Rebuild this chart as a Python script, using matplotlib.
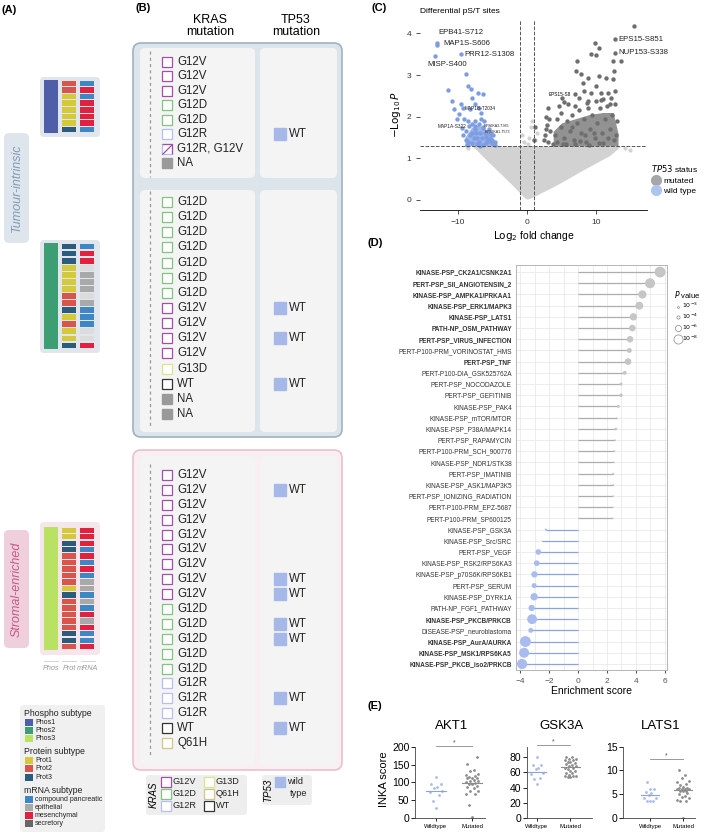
import numpy as np
import matplotlib
matplotlib.use('Agg')
import matplotlib.pyplot as plt
from matplotlib.patches import FancyBboxPatch, Rectangle
from matplotlib.lines import Line2D

plt.rcParams['font.family'] = ['Liberation Sans', 'DejaVu Sans']

# ---------------- data ----------------
# (A) subtypes per sample, three groups
phos_A = ['Phos1', 'Phos2', 'Phos3']
prot_A = [
    ['Prot2', 'Prot2', 'Prot1', 'Prot1', 'Prot1', 'Prot1', 'Prot1', 'Prot3'],
    ['Prot3', 'Prot3', 'Prot3', 'Prot1', 'Prot1', 'Prot1', 'Prot1', 'Prot2',
     'Prot2', 'Prot3', 'Prot1', 'Prot2', 'Prot1', 'Prot1', 'Prot3'],
    ['Prot1', 'Prot1', 'Prot3', 'Prot3', 'Prot2', 'Prot2', 'Prot2', 'Prot2',
     'Prot2', 'Prot1', 'Prot3', 'Prot2', 'Prot2', 'Prot2', 'Prot2', 'Prot2',
     'Prot3', 'Prot3', 'Prot2'],
]
mrna_A = [
    ['compound pancreatic', 'mesenchymal', 'compound pancreatic', 'mesenchymal',
     'mesenchymal', 'mesenchymal', 'mesenchymal', 'compound pancreatic'],
    ['compound pancreatic', 'mesenchymal', 'mesenchymal', 'NA', 'epithelial',
     'epithelial', 'epithelial', 'NA', 'epithelial', 'compound pancreatic',
     'compound pancreatic', 'compound pancreatic', 'NA', 'NA', 'mesenchymal'],
    ['mesenchymal', 'mesenchymal', 'mesenchymal', 'compound pancreatic',
     'mesenchymal', 'compound pancreatic', 'mesenchymal', 'compound pancreatic',
     'epithelial', 'epithelial', 'compound pancreatic', 'epithelial',
     'compound pancreatic', 'mesenchymal', 'epithelial', 'mesenchymal',
     'compound pancreatic', 'compound pancreatic', 'mesenchymal'],
]

# (B) KRAS / TP53 per sample
kras_B = [
    ['G12V', 'G12V', 'G12V', 'G12D', 'G12D', 'G12R', 'G12R, G12V', 'NA'],
    ['G12D', 'G12D', 'G12D', 'G12D', 'G12D', 'G12D', 'G12D', 'G12V', 'G12V',
     'G12V', 'G12V', 'G13D', 'WT', 'NA', 'NA'],
    ['G12V', 'G12V', 'G12V', 'G12V', 'G12V', 'G12V', 'G12V', 'G12V', 'G12V',
     'G12D', 'G12D', 'G12D', 'G12D', 'G12D', 'G12R', 'G12R', 'G12R', 'WT', 'Q61H'],
]
tp53_B = [
    ['', '', '', '', '', 'WT', '', ''],
    ['', '', '', '', '', '', '', 'WT', '', 'WT', '', '', 'WT', '', ''],
    ['', 'WT', '', '', '', '', '', 'WT', 'WT', '', 'WT', 'WT', '', '', '',
     'WT', '', 'WT', ''],
]

# (C) volcano: non-significant cloud envelope, dense cores and single sites
ns_fc = [-8.0, -7.0, -6.0, -4.5, -3.0, -2.0, -1.2, -0.6, 0.0, 0.6, 1.2, 2.0,
         3.0, 4.5, 6.0, 8.0, 10.0, 12.0, 13.5]
ns_lo = [1.30, 1.15, 0.98, 0.74, 0.50, 0.34, 0.20, 0.09, 0.02, 0.05, 0.10, 0.17,
         0.25, 0.38, 0.52, 0.71, 0.89, 1.07, 1.28]
ns_hi = [1.30] * len(ns_fc)
ns_x = [0.3, 0.6, -0.4, 0.8, 1.5, 1.2, -0.7, 0.1, 14.2, 15.0, -8.6]
ns_y = [1.50, 1.75, 1.40, 1.90, 1.60, 1.45, 1.55, 1.35, 1.25, 1.20, 1.25]

mut_core_fc = [3.8, 5.0, 7.0, 9.0, 11.0, 12.5, 13.2]
mut_core_hi = [1.65, 1.85, 1.95, 2.05, 2.10, 2.10, 1.60]
wt_core_fc = [-9.0, -8.0, -7.0, -6.0, -5.0, -4.5]
wt_core_hi = [1.50, 1.75, 1.80, 1.70, 1.50, 1.35]

wt_fc = [-13.0, -13.1, -9.6, -13.3, -8.8, -11.5, -8.6, -8.1, -7.1, -6.4, -10.8,
         -9.6, -10.5, -8.3, -7.6, -6.7, -9.8, -9.1, -8.6, -7.9, -6.2, -9.4, -8.0,
         -7.0, -10.2, -8.8, -8.2, -7.6, -7.2, -6.8, -6.3, -5.9, -5.5, -5.1, -4.7,
         -8.5, -7.9, -7.4, -6.9, -6.5, -6.0, -5.7, -5.3, -8.9, -7.0, -6.6, -8.4,
         -7.7, -6.1, -5.0, -9.3, -7.3, -8.0, -6.4, -5.5, -9.2, -7.6, -6.4, -4.9,
         -5.8, -6.8, -7.5, -8.7, -4.6, -5.2]
wt_p = [3.78, 3.73, 3.50, 3.45, 3.02, 2.64, 2.74, 2.66, 2.58, 2.54, 2.38, 2.30,
        2.18, 2.18, 2.30, 2.10, 2.06, 1.94, 1.90, 1.82, 1.90, 1.74, 2.45, 2.20,
        1.95, 1.65, 1.55, 1.70, 1.48, 1.62, 1.75, 1.52, 1.42, 1.36, 1.33, 1.40,
        1.38, 1.60, 1.40, 1.50, 1.38, 1.62, 1.50, 1.45, 1.82, 1.95, 1.78, 1.50,
        1.60, 1.45, 1.55, 1.35, 1.62, 1.33, 1.70, 2.20, 1.78, 1.74, 1.55, 1.45,
        1.30, 1.90, 1.32, 1.40, 1.58]

mut_fc = [15.5, 12.8, 12.7, 13.6, 9.8, 10.5, 9.3, 10.0, 7.3, 7.1, 12.4, 12.6,
          7.8, 8.8, 10.5, 11.4, 12.4, 8.1, 10.0, 8.3, 9.3, 10.7, 11.7, 12.7, 6.9,
          7.6, 8.8, 10.0, 11.0, 12.2, 12.7, 1.0, 1.2, 2.6, 2.9, 3.1, 3.4, 4.3,
          4.6, 4.9, 5.0, 5.4, 5.8, 6.2, 6.5, 6.8, 7.2, 7.5, 7.9, 8.2, 8.6, 8.9,
          9.2, 9.5, 9.9, 10.2, 10.6, 10.9, 11.3, 11.6, 12.0, 12.3, 12.6, 13.0,
          5.2, 7.0, 9.0, 11.0, 6.0, 3.8, 4.0, 2.7, 3.0, 5.6, 6.6, 8.4, 9.7, 11.8,
          12.9, 4.4, 10.4, 7.7, 2.8, 3.2, 2.5, 5.3, 5.1, 6.9, 8.7, 10.8, 12.1]
mut_p = [4.18, 3.86, 3.53, 3.34, 3.78, 3.66, 3.50, 3.48, 3.34, 3.10, 3.34, 3.10,
         3.02, 2.94, 2.98, 2.94, 2.90, 2.82, 2.74, 2.62, 2.58, 2.58, 2.58, 2.62,
         2.54, 2.46, 2.38, 2.38, 2.42, 2.46, 2.30, 1.45, 1.75, 1.55, 1.80, 1.40,
         1.65, 1.95, 2.25, 2.10, 1.75, 1.50, 1.90, 1.65, 2.05, 1.45, 1.85, 2.15,
         1.60, 1.95, 1.40, 2.20, 1.70, 2.05, 1.50, 1.85, 2.20, 1.60, 1.95, 2.25,
         1.70, 2.05, 1.45, 1.90, 1.35, 1.35, 1.33, 1.38, 2.30, 1.35, 1.55, 2.00,
         2.20, 1.35, 1.75, 1.55, 1.60, 1.50, 1.55, 1.40, 1.38, 1.42, 1.70, 1.95,
         1.45, 2.35, 2.45, 2.25, 2.32, 2.40, 2.30]

volcano_labels = [('EPB41-S712', -12.9, 4.02, 5.6), ('MAP1S-S606', -12.1, 3.76, 5.6),
                  ('PRR12-S1308', -9.0, 3.49, 5.6), ('MISP-S400', -14.4, 3.24, 5.6),
                  ('EPS15-S851', 13.2, 3.86, 5.6), ('NUP153-S338', 13.2, 3.53, 5.6),
                  ('MAP1B-T2034', -9.1, 2.20, 3.4), ('MAP1A-S322', -12.9, 1.76, 3.4),
                  ('RPS6KA3-T365', -6.2, 1.78, 2.6), ('RPS6KA1-T573', -6.1, 1.63, 2.6)]

# (D) enrichment
terms = ['KINASE-PSP_CK2A1/CSNK2A1', 'PERT-PSP_SII_ANGIOTENSIN_2',
         'KINASE-PSP_AMPKA1/PRKAA1', 'KINASE-PSP_ERK1/MAPK3', 'KINASE-PSP_LATS1',
         'PATH-NP_OSM_PATHWAY', 'PERT-PSP_VIRUS_INFECTION',
         'PERT-P100-PRM_VORINOSTAT_HMS', 'PERT-PSP_TNF', 'PERT-P100-DIA_GSK525762A',
         'PERT-PSP_NOCODAZOLE', 'PERT-PSP_GEFITINIB', 'KINASE-PSP_PAK4',
         'KINASE-PSP_mTOR/MTOR', 'KINASE-PSP_P38A/MAPK14', 'PERT-PSP_RAPAMYCIN',
         'PERT-P100-PRM_SCH_900776', 'KINASE-PSP_NDR1/STK38', 'PERT-PSP_IMATINIB',
         'KINASE-PSP_ASK1/MAP3K5', 'PERT-PSP_IONIZING_RADIATION',
         'PERT-P100-PRM_EPZ-5687', 'PERT-P100-PRM_SP600125', 'KINASE-PSP_GSK3A',
         'KINASE-PSP_Src/SRC', 'PERT-PSP_VEGF', 'KINASE-PSP_RSK2/RPS6KA3',
         'KINASE-PSP_p70S6K/RPS6KB1', 'PERT-PSP_SERUM', 'KINASE-PSP_DYRK1A',
         'PATH-NP_FGF1_PATHWAY', 'KINASE-PSP_PKCB/PRKCB', 'DISEASE-PSP_neuroblastoma',
         'KINASE-PSP_AurA/AURKA', 'KINASE-PSP_MSK1/RPS6KA5', 'KINASE-PSP_PKCB_iso2/PRKCB']
bold_terms = [1, 1, 1, 1, 1, 1, 1, 0, 1, 0, 0, 0, 0, 0, 0, 0, 0, 0, 0, 0, 0, 0, 0,
              0, 0, 0, 0, 0, 0, 0, 0, 1, 0, 1, 1, 1]
enrich = [5.66, 4.97, 4.44, 4.23, 3.82, 3.75, 3.59, 3.54, 3.45, 3.22, 2.97, 2.97,
          2.78, 2.67, 2.62, 2.55, 2.51, 2.48, 2.44, 2.44, 2.41, 2.39, 2.39, -2.21,
          -2.48, -2.74, -2.85, -3.01, -3.03, -3.03, -3.20, -3.17, -3.26, -3.63,
          -3.72, -3.86]
neglogp = [8.0, 7.5, 6.5, 6.3, 6.0, 5.6, 5.5, 4.6, 5.6, 4.0, 3.5, 3.8, 3.5, 2.3,
           3.2, 2.6, 2.9, 2.7, 2.8, 2.7, 2.6, 2.4, 2.4, 3.0, 2.3, 5.0, 5.0, 5.4,
           4.6, 6.0, 5.4, 7.4, 4.6, 8.0, 7.5, 7.6]

# (E) INKA scores
inka = {
    'AKT1': ([114, 94, 96, 86, 85, 75, 73, 64, 47, 28],
             [171, 152, 136, 131, 124, 122, 117, 115, 113, 113, 111, 106, 105, 103,
              99, 100, 96, 94, 89, 85, 86, 77, 75, 68, 66, 36, 2]),
    'GSK3A': ([81, 70, 70, 66, 65, 59, 58, 53, 51, 45],
              [81, 81, 78, 78, 76, 77, 74, 74, 73, 71, 70, 68, 68, 66, 66, 64, 62,
               62, 59, 59, 57, 55, 55, 55, 54, 54]),
    'LATS1': ([7.5, 6.0, 6.1, 5.4, 5.2, 4.9, 4.3, 4.3, 3.6, 3.5, 3.5],
              [10.1, 9.1, 8.4, 7.8, 7.5, 7.1, 7.0, 6.6, 6.4, 6.3, 6.1, 6.1, 6.1,
               6.1, 5.7, 5.7, 5.6, 5.2, 5.0, 4.7, 4.5, 4.2, 3.8, 3.6, 3.5, 0.1]),
}
inka_median = {'AKT1': (75, 99), 'GSK3A': (61, 67), 'LATS1': (4.9, 5.9)}
inka_sig = {'AKT1': 202, 'GSK3A': 96, 'LATS1': 12.4}
inka_ticks = {'AKT1': [0, 50, 100, 150, 200], 'GSK3A': [0, 20, 40, 60, 80],
              'LATS1': [0, 5, 10, 15]}
inka_axis_top = {'AKT1': 200, 'GSK3A': 94, 'LATS1': 15}
inka_ylim = {'AKT1': 215, 'GSK3A': 101, 'LATS1': 16}

# ---------------- colours ----------------
sub_colors = {'Phos1': '#4f5ea8', 'Phos2': '#3d9e74', 'Phos3': '#b9e264',
              'Prot1': '#d4c93a', 'Prot2': '#d9544a', 'Prot3': '#2b5c7c',
              'compound pancreatic': '#3f86c4', 'epithelial': '#a9a9a9',
              'mesenchymal': '#e0223f', 'secretory': '#666666', 'NA': '#dcdcdc'}
kras_colors = {'G12V': '#a24fa8', 'G12D': '#80c480', 'G12R': '#b7bff0',
               'G13D': '#d6e68e', 'Q61H': '#d3c48e', 'WT': '#333333', 'NA': '#9a9a9a'}
tp53_color = '#a6b8e8'
mut_dot = '#6e6e6e'
wt_dot = '#7d9de3'

# ---------------- layout helpers ----------------
W, H = 709, 834
fig = plt.figure(figsize=(W / 100, H / 100), dpi=100)


def add_ax(x0, y0, x1, y1):
    return fig.add_axes([x0 / W, 1 - y1 / H, (x1 - x0) / W, (y1 - y0) / H])


bg = fig.add_axes([0, 0, 1, 1])
bg.set_xlim(0, W)
bg.set_ylim(H, 0)
bg.axis('off')


def rbox(x0, y0, x1, y1, fc, ec='none', lw=0, r=4):
    bg.add_patch(FancyBboxPatch((x0 + r, y0 + r), x1 - x0 - 2 * r, y1 - y0 - 2 * r,
                                boxstyle=f'round,pad={r}', fc=fc, ec=ec, lw=lw))


# panel letters
for lab, x, y in [('(A)', 2, 10), ('(B)', 135, 8), ('(C)', 372, 8),
                  ('(D)', 368, 243), ('(E)', 368, 706)]:
    bg.text(x, y, lab, fontsize=8, fontweight='bold', va='center')

# ---------------- (A) ----------------
rbox(40, 77, 100, 137, '#e1e6ec')
rbox(40, 240, 100, 353, '#e1e6ec')
rbox(40, 522, 100, 655, '#f4e6eb')
rbox(4, 133, 29, 243, '#dfe5ec', r=5)
rbox(4, 530, 29, 648, '#efcfdb', r=5)
bg.text(16.5, 188, 'Tumour-intrinsic', rotation=90, ha='center', va='center',
        fontsize=9, style='italic', color='#7f9bb5')
bg.text(16.5, 589, 'Stromal-enriched', rotation=90, ha='center', va='center',
        fontsize=9, style='italic', color='#c45a86')

rows_A = [(80, 133), (243, 349), (527, 650)]
for g in range(3):
    y0, y1 = rows_A[g]
    ax = add_ax(43, y0, 95, y1)
    n = len(prot_A[g])
    ax.set_xlim(0, 3)
    ax.set_ylim(n, 0)
    ax.bar(0.47, n, bottom=0, width=0.82, color=sub_colors[phos_A[g]])
    ax.bar([1.5] * n, [0.82] * n, bottom=np.arange(n) + 0.09, width=0.82,
           color=[sub_colors[p] for p in prot_A[g]])
    ax.bar([2.53] * n, [0.82] * n, bottom=np.arange(n) + 0.09, width=0.82,
           color=[sub_colors[m] for m in mrna_A[g]])
    ax.axis('off')

for lab, x in [('Phos', 51), ('Prot', 69), ('mRNA', 88)]:
    bg.plot([x - 7, x + 7], [661, 661], color='#cccccc', lw=0.6)
    bg.text(x, 668, lab, ha='center', va='center', fontsize=5.2, style='italic',
            color='#999999')

rbox(20, 705, 105, 832, '#f0f0f0', r=3)
legend_A = [('Phospho subtype', ['Phos1', 'Phos2', 'Phos3']),
            ('Protein subtype', ['Prot1', 'Prot2', 'Prot3']),
            ('mRNA subtype', ['compound pancreatic', 'epithelial', 'mesenchymal',
                              'secretory'])]
yy = 713
for head, items in legend_A:
    bg.text(24, yy, head, fontsize=6.3, va='center', color='#222222')
    yy += 9
    for it in items:
        bg.add_patch(Rectangle((25, yy - 3.5), 8, 7, color=sub_colors[it], lw=0))
        bg.text(35, yy, it, fontsize=5, va='center', color='#222222')
        yy += 8.1
    yy += 5.5

# ---------------- (B) ----------------
bg.text(210, 26, 'KRAS\nmutation', ha='center', va='center', fontsize=9,
        linespacing=1.1)
bg.text(296, 26, 'TP53\nmutation', ha='center', va='center', fontsize=9,
        linespacing=1.1)
rbox(133, 43, 342, 437, '#dde5ec', ec='#9fb2c2', lw=1.2, r=8)
rbox(133, 450, 342, 770, '#f8eff2', ec='#ecbfd0', lw=1.2, r=8)
for y0, y1 in [(48, 178), (190, 432), (456, 764)]:
    rbox(140, y0, 255, y1, '#f4f4f4', r=5)
    rbox(260, y0, 337, y1, '#f4f4f4', r=5)

rows_B = [(62, 163), (202, 414), (475, 743)]
for g in range(3):
    first, last = rows_B[g]
    kr, tp = kras_B[g], tp53_B[g]
    n = len(kr)
    sp = (last - first) / (n - 1)
    ax = add_ax(140, first - sp / 2, 340, last + sp / 2)
    ax.set_xlim(140, 340)
    ax.set_ylim(n - 0.5, -0.5)
    ax.axis('off')
    ax.plot([150, 150], [-0.75, n - 0.05], ls=(0, (2.5, 2.5)), color='#999999',
            lw=0.9, clip_on=False)
    for i, k in enumerate(kr):
        if k == 'NA':
            ax.plot(167, i, 's', ms=7.5, mfc=kras_colors['NA'], mec=kras_colors['NA'])
        elif ',' in k:
            ax.plot(167, i, 's', ms=7.5, mfc='white', mec=kras_colors['G12R'], mew=0.9)
            ax.plot(167, i, marker=[(-1, 1), (1, 1), (1, -1)], ms=7.5, mfc='none',
                    mec=kras_colors['G12V'], mew=0.9, ls='none')
            ax.plot(167, i, marker=[(-1, -1), (1, 1)], ms=7.5,
                    mec=kras_colors['G12V'], mew=0.9, ls='none')
        else:
            ax.plot(167, i, 's', ms=7.5, mfc='white', mec=kras_colors[k], mew=0.9)
        ax.text(177, i, k, fontsize=8.3, va='center', color='#222222')
    for i, t in enumerate(tp):
        if t:
            ax.plot(280, i, 's', ms=8, color=tp53_color)
            ax.text(289, i, t, fontsize=8.3, va='center', color='#222222')

# legend for (B)
rbox(146, 775, 247, 815, '#eeeeee', r=3)
rbox(262, 775, 312, 805, '#eeeeee', r=3)
bg.text(154, 795, 'KRAS', rotation=90, ha='center', va='center', fontsize=7,
        style='italic')
bg.text(268, 790, 'TP53', rotation=90, ha='center', va='center', fontsize=7,
        style='italic')
for j, k in enumerate(['G12V', 'G12D', 'G12R', 'G13D', 'Q61H', 'WT']):
    cx = 166 + 43 * (j // 3)
    cy = 782 + 12 * (j % 3)
    bg.plot(cx, cy, 's', ms=6.5, mfc='white', mec=kras_colors[k], mew=0.9)
    bg.text(cx + 6.5, cy, k, fontsize=6.6, va='center', color='#222222')
bg.plot(280, 782, 's', ms=7, color=tp53_color)
bg.text(287, 782, 'wild', fontsize=6.6, va='center', color='#222222')
bg.text(290, 794, 'type', fontsize=6.6, va='center', color='#222222')

# ---------------- (C) volcano ----------------
axc = add_ax(420, 20, 647, 210)
axc.fill_between(ns_fc, ns_lo, ns_hi, color='#d2d2d2', lw=0, zorder=1)
axc.scatter(ns_x, ns_y, s=9, c='#d2d2d2', lw=0, zorder=1)
axc.fill_between(mut_core_fc, 1.3, mut_core_hi, color=mut_dot, alpha=0.75, lw=0,
                 zorder=2)
axc.fill_between(wt_core_fc, 1.3, wt_core_hi, color=wt_dot, alpha=0.75, lw=0,
                 zorder=2)
axc.scatter(mut_fc, mut_p, s=10, c=mut_dot, lw=0, zorder=2)
axc.scatter(wt_fc, wt_p, s=10, c=wt_dot, lw=0, zorder=2)
for v in (-1, 1):
    axc.axvline(v, ls='--', color='#555555', lw=0.7, zorder=3)
axc.axhline(1.3, ls='--', color='#555555', lw=0.7, zorder=3)
for txt, x, y, fs in volcano_labels:
    axc.text(x, y, txt, fontsize=fs, va='center', color='#222222', zorder=4)
axc.text(6.4, 2.54, 'EPS15-S8', fontsize=3.4, ha='right', va='center', zorder=4)
axc.set_xlim(-15.5, 17.4)
axc.set_ylim(-0.24, 4.32)
axc.set_xticks([-10, 0, 10])
axc.set_yticks([0, 1, 2, 3, 4])
axc.tick_params(labelsize=6, length=3, width=0.6, colors='#333333')
for s in ['top', 'right', 'left']:
    axc.spines[s].set_visible(False)
axc.spines['bottom'].set_linewidth(0.6)
axc.set_xlabel(r'$\mathrm{Log}_2$ fold change', fontsize=7.5, labelpad=2)
axc.set_ylabel(r'$-\mathrm{Log}_{10}\,P$', fontsize=7.5, labelpad=2)
axc.patch.set_alpha(0)
bg.text(420, 11, 'Differential pS/T sites', fontsize=6, va='center')
hc = [Line2D([], [], ls='none', marker='o', ms=7, color='#a6a6a6'),
      Line2D([], [], ls='none', marker='o', ms=7, color='#b0c4f2')]
lc = fig.legend(hc, ['mutated', 'wild type'], title=r'$\it{TP53}$ status',
                loc='upper left', bbox_to_anchor=(648 / W, 1 - 160 / H),
                frameon=False, fontsize=6, title_fontsize=6, handletextpad=0.2,
                borderaxespad=0, labelspacing=0.3, handlelength=1.2)
lc._legend_box.align = 'left'

# ---------------- (D) enrichment ----------------


def psize(v):
    return 1.6 * (np.asarray(v) - 1.8) ** 2


axd = add_ax(516, 265, 667, 670)
n = len(terms)
ypos = np.arange(n)
enrich_a = np.array(enrich)
dcol = np.where(enrich_a > 0, '#c6c6c6', '#a9bcef')
lcol = np.where(enrich_a > 0, '#adadad', '#8aa3dc')
axd.hlines(ypos, 0, enrich_a, colors=lcol, lw=0.9, zorder=2)
axd.scatter(enrich_a, ypos, s=psize(neglogp), c=dcol, lw=0, zorder=3)
axd.set_xlim(-4.28, 6.14)
axd.set_ylim(n - 1 + 0.54, -0.63)
axd.set_xticks([-4, -2, 0, 2, 4, 6])
axd.set_xticks(np.arange(-4, 6.1, 1), minor=True)
axd.set_yticks(ypos)
axd.set_yticklabels(terms, fontsize=4.7, color='#333333')
for lab, b in zip(axd.get_yticklabels(), bold_terms):
    lab.set_fontweight('bold' if b else 'normal')
axd.grid(which='both', color='#e6e6e6', lw=0.5)
axd.set_axisbelow(True)
axd.tick_params(axis='y', length=0, pad=3)
axd.tick_params(axis='x', which='major', length=2, labelsize=6, colors='#555555')
axd.tick_params(axis='x', which='minor', length=0)
for s in axd.spines.values():
    s.set_color('#b5b5b5')
    s.set_linewidth(0.7)
axd.set_xlabel('Enrichment score', fontsize=7.5, labelpad=1)
hp = [plt.scatter([], [], s=psize(v) * 0.7, fc='white', ec='#888888', lw=0.5)
      for v in (3, 4, 6, 8)]
ld = fig.legend(hp, [r'$10^{-3}$', r'$10^{-4}$', r'$10^{-6}$', r'$10^{-8}$'],
                title=r'$\it{P}$ value', loc='upper left',
                bbox_to_anchor=(672 / W, 1 - 286 / H), frameon=False, fontsize=4.5,
                title_fontsize=5.5, handletextpad=0.2, borderaxespad=0,
                labelspacing=0.25, handlelength=1.0)
ld._legend_box.align = 'left'

# ---------------- (E) INKA ----------------


def spread(vals, center):
    vals = np.asarray(vals, float)
    order = np.argsort(vals)
    pat = np.array([0, -1, 1, -2, 2, -0.5, 0.5, -1.5, 1.5]) * 0.085
    off = np.empty(len(vals))
    off[order] = pat[np.arange(len(vals)) % len(pat)]
    return center + off


e_boxes = {'AKT1': (415, 485, -0.58, 1.36), 'GSK3A': (527, 592, -0.3, 1.65),
           'LATS1': (623, 695, -0.82, 1.36)}
for name, (x0, x1, xl0, xl1) in e_boxes.items():
    top = inka_ylim[name]
    axis_top = inka_axis_top[name]
    y_top = 818 - 71.3 * top / axis_top
    ax = add_ax(x0, y_top, x1, 818)
    wt, mu = inka[name]
    ax.scatter(spread(wt, 0), wt, s=4, c='#a9bbe9', lw=0)
    ax.scatter(spread(mu, 1), mu, s=4, c='#8c8c8c', lw=0)
    mw, mm = inka_median[name]
    ax.plot([-0.28, 0.28], [mw, mw], color='#8da3dc', lw=0.8)
    ax.plot([0.72, 1.28], [mm, mm], color='#8c8c8c', lw=0.8)
    sig = inka_sig[name]
    ax.plot([0, 1], [sig, sig], color='#888888', lw=0.6, clip_on=False)
    ax.text(0.5, sig, '*', ha='center', va='bottom', fontsize=5, color='#555555')
    ax.set_xlim(xl0, xl1)
    ax.set_ylim(0, top)
    ax.set_yticks(inka_ticks[name])
    ax.spines['left'].set_bounds(0, axis_top)
    ax.set_xticks([0, 1])
    ax.set_xticklabels(['Wildtype', 'Mutated'], fontsize=4.3)
    ax.tick_params(axis='y', labelsize=7.5, length=3, width=0.6, pad=1)
    ax.tick_params(axis='x', length=2, width=0.6, pad=2)
    for s in ['top', 'right']:
        ax.spines[s].set_visible(False)
    for s in ['left', 'bottom']:
        ax.spines[s].set_linewidth(0.6)
        ax.spines[s].set_color('#444444')
    ax.patch.set_alpha(0)
    bg.text((x0 + x1) / 2 + 2, 726, name, ha='center', va='center', fontsize=9.5)
    if name == 'AKT1':
        ax.set_ylabel('INKA score', fontsize=8, labelpad=2)

fig.savefig('out.png', dpi=100)
